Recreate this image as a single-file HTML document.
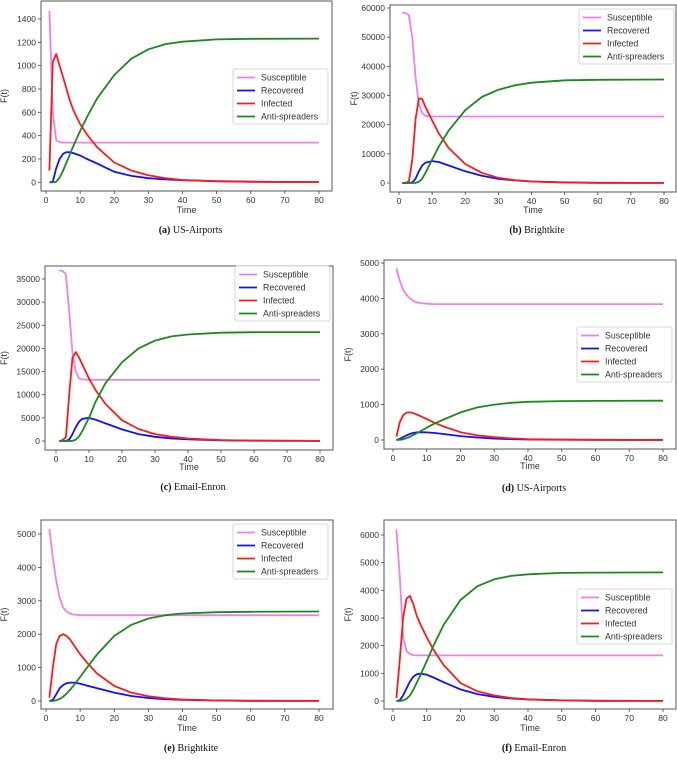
<!DOCTYPE html>
<html><head><meta charset="utf-8"><style>
body{margin:0;background:#fff;}
svg text{font-family:"Liberation Sans",sans-serif;fill:#333;}
.cap{font-family:"Liberation Serif",serif;fill:#111;}
</style></head><body>
<svg id="fig" width="677" height="758" viewBox="0 0 677 758" xmlns="http://www.w3.org/2000/svg"></svg>
<script>
const times=[1,2,3,4,5,6,7,8,10,12,15,20,25,30,35,40,50,60,80];
const xTicks=[0,10,20,30,40,50,60,70,80];
const seriesNames=["Susceptible","Recovered","Infected","Anti-spreaders"];
// Panel a
const aS=[1470,600,360,345,340,340,340,340,340,340,340,340,340,340,340,340,340,340,340];
const aR=[0,5,120,200,245,258,258,250,230,200,160,90,55,35,25,18,10,5,2];
const aI=[100,1030,1100,1000,900,800,700,620,500,410,300,170,100,60,35,20,8,4,2];
const aA=[0,0,5,40,100,170,240,310,440,560,720,920,1060,1140,1185,1205,1225,1230,1232];
const aTicks=[0,200,400,600,800,1000,1200,1400];
// Panel b
const bS=[58300,58300,57500,50000,36000,27000,24000,23000,22800,22800,22800,22800,22800,22800,22800,22800,22800,22800,22800];
const bR=[0,0,0,200,1500,4000,6000,7000,7500,7200,6000,4000,2500,1400,900,500,200,80,20];
const bI=[0,100,500,8000,22000,29000,28800,26000,21500,17000,12000,6500,3500,1800,1000,500,150,60,20];
const bA=[0,0,0,0,50,400,1500,3500,8000,12500,18000,25000,29500,32000,33500,34400,35200,35400,35500];
const bTicks=[0,10000,20000,30000,40000,50000,60000];
// Panel c
const cS=[36800,36800,36000,28000,19000,15000,13500,13300,13200,13200,13200,13200,13200,13200,13200,13200,13200,13200,13200];
const cR=[0,0,0,300,1500,3000,4200,4800,5000,4600,3800,2500,1500,900,550,350,150,60,20];
const cI=[0,200,800,10000,18000,19200,18000,16500,13500,11000,8000,4500,2600,1500,900,550,200,80,20];
const cA=[0,0,0,0,50,300,1000,2200,5000,8500,12500,17000,20000,21700,22600,23000,23400,23500,23500];
const cTicks=[0,5000,10000,15000,20000,25000,30000,35000];
// Panel d
const dS=[4850,4500,4250,4100,4000,3930,3890,3870,3850,3840,3840,3840,3840,3840,3840,3840,3840,3840,3840];
const dR=[0,30,80,130,170,200,215,220,215,200,170,110,70,40,25,15,8,4,1];
const dI=[100,500,700,770,780,760,720,680,590,500,380,220,130,80,45,25,10,5,2];
const dA=[0,5,20,50,90,140,190,240,350,450,580,780,920,1000,1050,1080,1100,1105,1110];
const dTicks=[0,1000,2000,3000,4000,5000];
// Panel e
const eS=[5150,4300,3600,3100,2800,2680,2620,2590,2570,2570,2570,2570,2570,2570,2570,2570,2570,2570,2570];
const eR=[0,30,200,380,480,530,550,550,520,460,380,250,150,90,55,35,15,5,2];
const eI=[100,1000,1700,1950,2000,1950,1850,1700,1400,1150,820,450,250,140,80,45,15,5,2];
const eA=[0,0,20,60,130,220,330,450,720,1000,1400,1950,2280,2470,2570,2620,2660,2670,2680];
const eTicks=[0,1000,2000,3000,4000,5000];
// Panel f
const fS=[6200,4500,2300,1800,1700,1660,1650,1650,1650,1650,1650,1650,1650,1650,1650,1650,1650,1650,1650];
const fR=[0,30,200,450,700,880,960,990,950,850,680,420,250,150,90,55,20,8,2];
const fI=[100,1500,3000,3700,3800,3500,3100,2800,2300,1850,1300,650,350,200,110,60,20,8,2];
const fA=[0,0,20,80,200,400,650,900,1450,2000,2750,3650,4150,4400,4520,4580,4630,4640,4650];
const fTicks=[0,1000,2000,3000,4000,5000,6000];

const colors=["#f07ef0","#1010ff","#ff1a1a","#1a8a1a"];
const NS="http://www.w3.org/2000/svg";
const svg=document.getElementById('fig');
function mk(tag,attrs,parent){const e=document.createElementNS(NS,tag);for(const k in attrs)e.setAttribute(k,attrs[k]);(parent||svg).appendChild(e);return e;}

const panels=[
 {id:'a',label:'(a)',title:'US-Airports',box:[41,1,332,191],x0:46,x80:319,y0:182.3,yTop:19,yTopVal:1400,ticks:aTicks,data:[aS,aR,aI,aA],leg:[233,69],timeY:217,capY:237},
 {id:'b',label:'(b)',title:'Brightkite',box:[390,5,676,192],x0:399,x80:664,y0:183,yTop:8,yTopVal:60000,ticks:bTicks,data:[bS,bR,bI,bA],leg:[579,9],timeY:217,capY:237},
 {id:'c',label:'(c)',title:'Email-Enron',box:[45,266,333,450],x0:56,x80:320,y0:441,yTop:279,yTopVal:35000,ticks:cTicks,data:[cS,cR,cI,cA],leg:[235,266],timeY:474,capY:494},
 {id:'d',label:'(d)',title:'US-Airports',box:[384,260,676,449],x0:393,x80:663,y0:440,yTop:263,yTopVal:5000,ticks:dTicks,data:[dS,dR,dI,dA],leg:[577,327],timeY:473,capY:495},
 {id:'e',label:'(e)',title:'Brightkite',box:[41,520,333,709],x0:46,x80:319,y0:701,yTop:534,yTopVal:5000,ticks:eTicks,data:[eS,eR,eI,eA],leg:[233,524],timeY:735,capY:755},
 {id:'f',label:'(f)',title:'Email-Enron',box:[384,520,676,709],x0:393,x80:663,y0:701,yTop:535,yTopVal:6000,ticks:fTicks,data:[fS,fR,fI,fA],leg:[577,589],timeY:735,capY:755}
];

panels.forEach(p=>{
 const g=mk('g',{});
 
 
 const xs=t=>p.x0+(p.x80-p.x0)*t/80;
 const ys=v=>p.y0-(p.y0-p.yTop)*v/p.yTopVal;
 const [L,T,R,B]=p.box;
 p.data.forEach((arr,si)=>{
  const pts=arr.map((v,i)=>xs(times[i]).toFixed(1)+','+ys(v).toFixed(1)).join(' ');
  const pl=mk('polyline',{points:pts,fill:'none',stroke:colors[si],'stroke-width':1.8,'stroke-linejoin':'round'},g);
  
  
 });
 const fr=mk('rect',{x:L,y:T,width:R-L,height:B-T,fill:'none',stroke:'#555','stroke-width':1},g);
 
 
 xTicks.forEach(t=>{
  const x=xs(t);
  mk('line',{x1:x,y1:B,x2:x,y2:B+3,stroke:'#444','stroke-width':0.8},g);
  const tx=mk('text',{x:x,y:B+12,'font-size':8.5,'text-anchor':'middle'},g);
  tx.textContent=t;
  
  
 });
 p.ticks.forEach(v=>{
  const y=ys(v);
  mk('line',{x1:L-3,y1:y,x2:L,y2:y,stroke:'#444','stroke-width':0.8},g);
  const tx=mk('text',{x:L-5,y:y+3,'font-size':8.5,'text-anchor':'end'},g);
  tx.textContent=v;
  
  
 });
 const xt=mk('text',{x:(L+R)/2,y:p.timeY-4,'font-size':9,'text-anchor':'middle'},g);
 xt.textContent='Time';
 
 
 const yx=p.id==='a'||p.id==='c'||p.id==='e'?7:(L-33);
 const yt=mk('text',{x:yx,y:(T+B)/2,'font-size':9,'text-anchor':'middle',transform:`rotate(-90 ${yx} ${(T+B)/2})`},g);
 yt.textContent='F(t)';
 
 
 const [lx,ly]=p.leg;
 const lg=mk('g',{},g);
 
 
 mk('rect',{x:lx,y:ly,width:95,height:55,fill:'#fff',stroke:'#ccc','stroke-width':0.8,rx:2},lg);
 seriesNames.forEach((n,i)=>{
  const yy=ly+8.5+i*13;
  mk('line',{x1:lx+4,y1:yy,x2:lx+22,y2:yy,stroke:colors[i],'stroke-width':1.8},lg);
  const t=mk('text',{x:lx+28,y:yy+3.2,'font-size':8.8},lg);
  t.textContent=n;
  
  
 });
 const cap=mk('text',{x:(L+R)/2+4,y:p.capY-4,'font-size':10,'text-anchor':'middle',class:'cap'},g);
 
 
 const b1=mk('tspan',{'font-weight':'bold'},cap);b1.textContent=p.label+' ';
 const b2=mk('tspan',{},cap);b2.textContent=p.title;
});
</script>
</body></html>
